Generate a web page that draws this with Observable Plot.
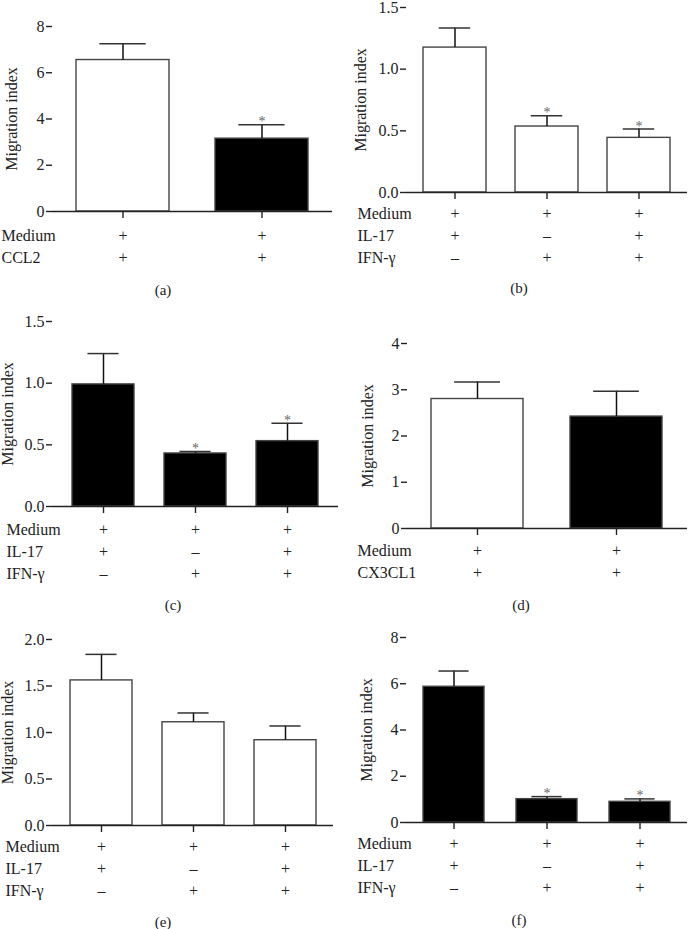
<!DOCTYPE html>
<html>
<head>
<meta charset="utf-8">
<script src="https://cdn.jsdelivr.net/npm/d3@7"></script>
<script src="https://cdn.jsdelivr.net/npm/@observablehq/plot@0.6"></script>
<style>
  html, body { margin: 0; padding: 0; background: #fff; }
  #root { position: relative; width: 688px; height: 929px; background: #fff; font-family: "Liberation Serif", serif; }
  .cell { position: absolute; }
  .cap { position: absolute; transform: translate(-50%, -50%); font-size: 15px; color: #222; font-family: "Liberation Serif", serif; white-space: nowrap; }
</style>
</head>
<body>
<div id="root"></div>
<script>
// ---------- data ----------
const yLabel = "Migration index";

// (a)
const aCats = ["g1", "g2"];
const aMeans = [6.55, 3.15];
const aErrTop = [7.25, 3.75];
const aFills = ["white", "black"];
const aSig = [false, true];
const aRowNames = ["Medium", "CCL2"];
const aRows = [["+", "+"], ["+", "+"]];
const aTicks = [0, 2, 4, 6, 8];

// (b)
const bCats = ["g1", "g2", "g3"];
const bMeans = [1.175, 0.535, 0.443];
const bErrTop = [1.333, 0.622, 0.514];
const bFills = ["white", "white", "white"];
const bSig = [false, true, true];
const bRowNames = ["Medium", "IL-17", "IFN-\u03b3"];
const bRows = [["+", "+", "+"], ["+", "\u2013", "+"], ["\u2013", "+", "+"]];
const bTicks = [0, 0.5, 1.0, 1.5];

// (c)
const cCats = ["g1", "g2", "g3"];
const cMeans = [0.99, 0.43, 0.53];
const cErrTop = [1.24, 0.446, 0.675];
const cFills = ["black", "black", "black"];
const cSig = [false, true, true];
const cRowNames = ["Medium", "IL-17", "IFN-\u03b3"];
const cRows = [["+", "+", "+"], ["+", "\u2013", "+"], ["\u2013", "+", "+"]];
const cTicks = [0, 0.5, 1.0, 1.5];

// (d)
const dCats = ["g1", "g2"];
const dMeans = [2.80, 2.42];
const dErrTop = [3.17, 2.97];
const dFills = ["white", "black"];
const dSig = [false, false];
const dRowNames = ["Medium", "CX3CL1"];
const dRows = [["+", "+"], ["+", "+"]];
const dTicks = [0, 1, 2, 3, 4];

// (e)
const eCats = ["g1", "g2", "g3"];
const eMeans = [1.56, 1.11, 0.917];
const eErrTop = [1.84, 1.21, 1.07];
const eFills = ["white", "white", "white"];
const eSig = [false, false, false];
const eRowNames = ["Medium", "IL-17", "IFN-\u03b3"];
const eRows = [["+", "+", "+"], ["+", "\u2013", "+"], ["\u2013", "+", "+"]];
const eTicks = [0, 0.5, 1.0, 1.5, 2.0];

// (f)
const fCats = ["g1", "g2", "g3"];
const fMeans = [5.87, 1.01, 0.895];
const fErrTop = [6.55, 1.12, 1.02];
const fFills = ["black", "black", "black"];
const fSig = [false, true, true];
const fRowNames = ["Medium", "IL-17", "IFN-\u03b3"];
const fRows = [["+", "+", "+"], ["+", "\u2013", "+"], ["\u2013", "+", "+"]];
const fTicks = [0, 2, 4, 6, 8];

// ---------- layout ----------
const panels = [
  {id: "(a)", cats: aCats, means: aMeans, errTop: aErrTop, fills: aFills, sig: aSig, rowNames: aRowNames, rows: aRows, ticks: aTicks, fmt: d3.format("d"),
   left: 0, top: 0, H: 300, mt: 26, mb: 89, ml: 52, mr: 12, po: 0.17, pi: 0.33, labelCenter: 13, nameX: 1, rowDy0: 24, capX: 163, capY: 290},
  {id: "(b)", cats: bCats, means: bMeans, errTop: bErrTop, fills: bFills, sig: bSig, rowNames: bRowNames, rows: bRows, ticks: bTicks, fmt: d3.format(".1f"),
   left: 344, top: 0, H: 300, mt: 7, mb: 108, ml: 62, mr: 1, po: 0.176, pi: 0.32, labelCenter: 18, nameX: 13, rowDy0: 21.5, capX: 175, capY: 288},
  {id: "(c)", cats: cCats, means: cMeans, errTop: cErrTop, fills: cFills, sig: cSig, rowNames: cRowNames, rows: cRows, ticks: cTicks, fmt: d3.format(".1f"),
   left: 0, top: 300, H: 300, mt: 21, mb: 94, ml: 52, mr: 6, po: 0.215, pi: 0.33, labelCenter: 9, nameX: 6, rowDy0: 23.3, capX: 173, capY: 305},
  {id: "(d)", cats: dCats, means: dMeans, errTop: dErrTop, fills: dFills, sig: dSig, rowNames: dRowNames, rows: dRows, ticks: dTicks, fmt: d3.format("d"),
   left: 344, top: 300, H: 300, mt: 43, mb: 72, ml: 63, mr: 1, po: 0.174, pi: 0.336, labelCenter: 25, nameX: 13, rowDy0: 22.5, capX: 177, capY: 305},
  {id: "(e)", cats: eCats, means: eMeans, errTop: eErrTop, fills: eFills, sig: eSig, rowNames: eRowNames, rows: eRows, ticks: eTicks, fmt: d3.format(".1f"),
   left: 0, top: 610, H: 319, mt: 29, mb: 104, ml: 52, mr: 11, po: 0.19, pi: 0.33, labelCenter: 9, nameX: 5, rowDy0: 21.7, capX: 163, capY: 311.7},
  {id: "(f)", cats: fCats, means: fMeans, errTop: fErrTop, fills: fFills, sig: fSig, rowNames: fRowNames, rows: fRows, ticks: fTicks, fmt: d3.format("d"),
   left: 344, top: 610, H: 319, mt: 27, mb: 107, ml: 62, mr: 1, po: 0.176, pi: 0.34, labelCenter: 24, nameX: 13, rowDy0: 21.5, capX: 175, capY: 310}
];

const FONT = "Liberation Serif";
const ROW_STEP = 22;
const root = document.getElementById("root");

for (const p of panels) {
  const data = p.cats.map((c, i) => ({cat: c, mean: p.means[i], err: p.errTop[i], fill: p.fills[i], sig: p.sig[i]}));
  const n = p.cats.length;
  const plotW = 344 - p.ml - p.mr;
  const step = plotW / (n - p.pi + 2 * p.po);
  const bw = step * (1 - p.pi);
  const capInset = bw / 4;
  const ymax = p.ticks[p.ticks.length - 1];

  const rowMarks = [];
  p.rows.forEach((row, r) => {
    rowMarks.push(Plot.text(data, {
      x: "cat", text: (d, i) => row[i], frameAnchor: "bottom", dy: p.rowDy0 + ROW_STEP * r,
      lineAnchor: "middle", fontSize: 16, fill: "#222"
    }));
    rowMarks.push(Plot.text([p.rowNames[r]], {
      text: d => d, frameAnchor: "bottom-left", dx: -(p.ml - p.nameX), dy: p.rowDy0 + ROW_STEP * r,
      textAnchor: "start", lineAnchor: "middle", fontSize: 16, fill: "#222"
    }));
  });

  const chart = Plot.plot({
    width: 344,
    height: p.H,
    marginTop: p.mt,
    marginBottom: p.mb,
    marginLeft: p.ml,
    marginRight: p.mr,
    style: {fontFamily: FONT, fontSize: "16px", background: "transparent", color: "#222", overflow: "visible"},
    x: {domain: p.cats, paddingInner: p.pi, paddingOuter: p.po, axis: null},
    y: {type: "linear", domain: [0, ymax], axis: null},
    marks: [
      Plot.barY(data, {x: "cat", y: "mean", fill: d => d.fill, stroke: "#444", strokeWidth: 1.4}),
      Plot.ruleX(data, {x: "cat", y1: "mean", y2: "err", stroke: "#111", strokeWidth: 1.5}),
      Plot.tickY(data, {x: "cat", y: "err", insetLeft: capInset, insetRight: capInset, stroke: "#333", strokeWidth: 1.5}),
      Plot.text(data.filter(d => d.sig), {x: "cat", y: "err", text: () => "*", dy: -3, fontSize: 14, fill: "#666", lineAnchor: "middle"}),
      Plot.axisY({
        ticks: p.ticks, tickFormat: p.fmt, tickSize: 6, tickPadding: 2, line: true,
        stroke: "#222", strokeWidth: 1.4, fontSize: 16,
        label: yLabel, labelAnchor: "center", labelArrow: "none",
        labelOffset: p.ml - p.labelCenter + 7.7
      }),
      Plot.ruleY([0], {stroke: "#222", strokeWidth: 1.4}),
      Plot.axisX({tickSize: 7, tickFormat: () => "", stroke: "#222", strokeWidth: 1.4, label: null}),
      ...rowMarks
    ]
  });

  const cell = document.createElement("div");
  cell.className = "cell";
  cell.style.left = p.left + "px";
  cell.style.top = p.top + "px";
  cell.style.width = "344px";
  cell.style.height = p.H + "px";
  cell.appendChild(chart);
  const cap = document.createElement("div");
  cap.className = "cap";
  cap.style.left = p.capX + "px";
  cap.style.top = p.capY + "px";
  cap.textContent = p.id;
  cell.appendChild(cap);
  root.appendChild(cell);
}
</script>
</body>
</html>
